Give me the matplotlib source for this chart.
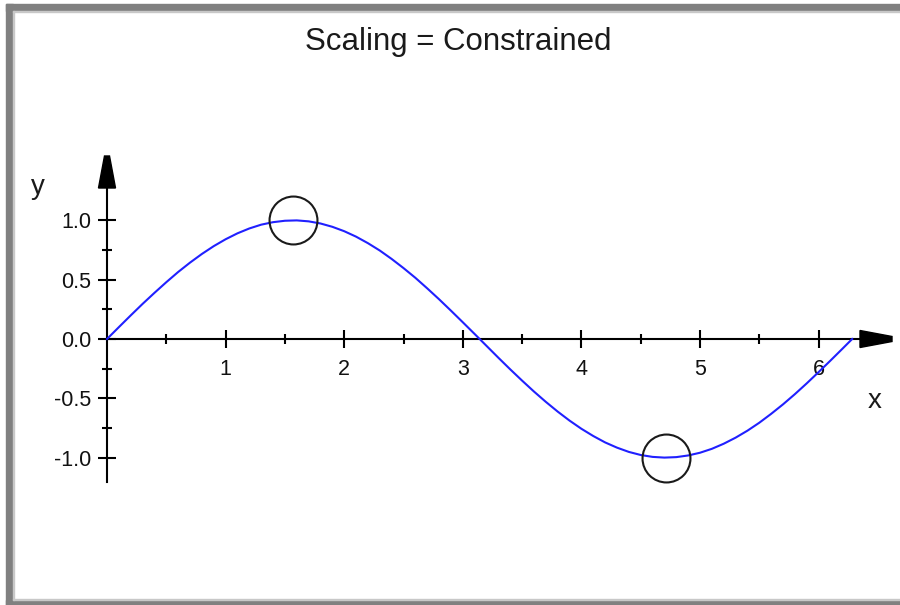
import matplotlib.pyplot as plt
from matplotlib.patches import Rectangle, Polygon
from matplotlib.ticker import FixedLocator, NullFormatter

plt.rcParams['font.family'] = ['Liberation Sans', 'DejaVu Sans']

# curve values
x_vals = [0.0, 0.1, 0.2, 0.3, 0.4, 0.5, 0.6, 0.7, 0.8, 0.9,
          1.0, 1.1, 1.2, 1.3, 1.4, 1.5, 1.6, 1.7, 1.8, 1.9,
          2.0, 2.1, 2.2, 2.3, 2.4, 2.5, 2.6, 2.7, 2.8, 2.9,
          3.0, 3.1, 3.2, 3.3, 3.4, 3.5, 3.6, 3.7, 3.8, 3.9,
          4.0, 4.1, 4.2, 4.3, 4.4, 4.5, 4.6, 4.7, 4.8, 4.9,
          5.0, 5.1, 5.2, 5.3, 5.4, 5.5, 5.6, 5.7, 5.8, 5.9,
          6.0, 6.1, 6.2, 6.283]
y_vals = [0.000, 0.100, 0.199, 0.296, 0.389, 0.479, 0.565, 0.644, 0.717, 0.783,
          0.841, 0.891, 0.932, 0.964, 0.985, 0.997, 1.000, 0.992, 0.974, 0.946,
          0.909, 0.863, 0.808, 0.746, 0.675, 0.598, 0.516, 0.427, 0.335, 0.239,
          0.141, 0.042, -0.058, -0.158, -0.256, -0.351, -0.443, -0.530, -0.612, -0.688,
          -0.757, -0.818, -0.872, -0.916, -0.952, -0.978, -0.994, -1.000, -0.996, -0.982,
          -0.959, -0.926, -0.883, -0.832, -0.773, -0.706, -0.631, -0.551, -0.465, -0.374,
          -0.279, -0.182, -0.083, 0.000]

# circled extrema
mark_x = [1.57, 4.71]
mark_y = [1.0, -1.0]

x_major = [1, 2, 3, 4, 5, 6]
x_minor = [0.5, 1.5, 2.5, 3.5, 4.5, 5.5]
y_major = [-1.0, -0.5, 0.0, 0.5, 1.0]
y_minor = [-0.75, -0.25, 0.25, 0.75]

W, H = 900, 605
S = 118.6          # pixels per unit (constrained scaling)
X0, Y0 = 107, 339  # pixel position of the origin

fig = plt.figure(figsize=(9, 6.05), dpi=100)
ax = fig.add_axes([0, 0, 1, 1])
ax.set_xlim(-X0 / S, (W - X0) / S)
ax.set_ylim(-(H - Y0) / S, Y0 / S)
ax.patch.set_visible(False)

ax.plot(x_vals, y_vals, color='#2020ff', lw=1.5, zorder=3)
ax.plot(mark_x, mark_y, 'o', ms=34.5, mfc='none', mec='#1a1a1a', mew=1.5, zorder=4)

# axes through the origin
for s in ['top', 'right']:
    ax.spines[s].set_visible(False)
ax.spines['left'].set_position(('data', 0))
ax.spines['bottom'].set_position(('data', 0))
x_end = (892 - X0) / S
y_end = (Y0 - 156) / S
ax.spines['bottom'].set_bounds(0, x_end - 0.2)
ax.spines['left'].set_bounds(-1.206, y_end - 0.2)
for s in ['left', 'bottom']:
    ax.spines[s].set_linewidth(1.5)
    ax.spines[s].set_color('black')

ax.xaxis.set_major_locator(FixedLocator(x_major))
ax.xaxis.set_minor_locator(FixedLocator(x_minor))
ax.yaxis.set_major_locator(FixedLocator(y_major))
ax.yaxis.set_minor_locator(FixedLocator(y_minor))
ax.set_xticklabels([str(v) for v in x_major])
ax.set_yticklabels(['%.1f' % v for v in y_major])
ax.xaxis.set_minor_formatter(NullFormatter())
ax.yaxis.set_minor_formatter(NullFormatter())
ax.tick_params(which='major', direction='inout', length=13, width=1.5, labelsize=15.5,
               labelcolor='#111111')
ax.tick_params(which='minor', direction='inout', length=7, width=1.5)
ax.tick_params(axis='x', which='major', pad=8)
ax.tick_params(axis='y', which='major', pad=5)

# arrowheads
al, bw, tw = 32 / S, 8.5 / S, 2.5 / S
ax.add_patch(Polygon([(x_end - al, -bw), (x_end, -tw), (x_end, tw), (x_end - al, bw)],
                     closed=True, color='black', zorder=5, clip_on=False))
ax.add_patch(Polygon([(-bw, y_end - al), (-tw, y_end), (tw, y_end), (bw, y_end - al)],
                     closed=True, color='black', zorder=5, clip_on=False))

fig.text(38 / W, 1 - 187 / H, 'y', fontsize=20, ha='center', va='center', color='#1a1a1a')
fig.text(875 / W, 1 - 401 / H, 'x', fontsize=20, ha='center', va='center', color='#1a1a1a')
fig.text(458 / W, 1 - 50 / H, 'Scaling = Constrained', fontsize=22.5, ha='center',
         va='baseline', color='#1a1a1a')

# grey window frame
frame = '#808080'
fig.patches.append(Rectangle((6 / W, 0), 7 / W, (H - 4) / H, transform=fig.transFigure,
                             color=frame, zorder=10))
fig.patches.append(Rectangle((6 / W, (H - 11) / H), (W - 6) / W, 7 / H,
                             transform=fig.transFigure, color=frame, zorder=10))
fig.patches.append(Rectangle((6 / W, 0), (W - 6) / W, 5 / H, transform=fig.transFigure,
                             color=frame, zorder=10))
fig.patches.append(Rectangle((13 / W, 5 / H), 1 / W, (H - 16) / H, transform=fig.transFigure,
                             color='#c8c8c8', zorder=10))
fig.patches.append(Rectangle((13 / W, (H - 12) / H), (W - 13) / W, 1 / H,
                             transform=fig.transFigure, color='#c8c8c8', zorder=10))
fig.patches.append(Rectangle((13 / W, 5 / H), (W - 13) / W, 1 / H,
                             transform=fig.transFigure, color='#c8c8c8', zorder=10))

fig.savefig('out.png', dpi=100)
